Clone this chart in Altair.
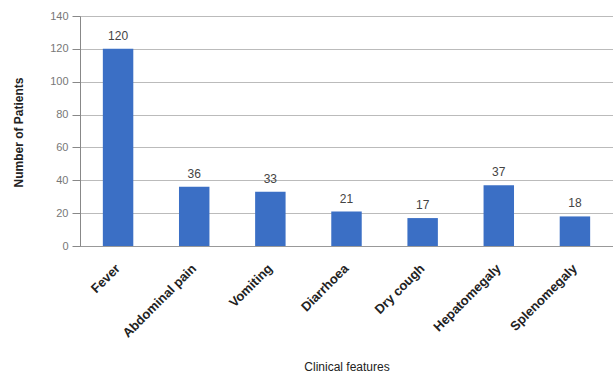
import altair as alt
import pandas as pd

features = ["Fever", "Abdominal pain", "Vomiting", "Diarrhoea", "Dry cough", "Hepatomegaly", "Splenomegaly"]
patients = [120, 36, 33, 21, 17, 37, 18]
y_ticks = [0, 20, 40, 60, 80, 100, 120, 140]

df = pd.DataFrame({"feature": features, "patients": patients})

base = alt.Chart(df).encode(
    x=alt.X("feature:N", sort=features, title="Clinical features",
            scale=alt.Scale(paddingInner=0.6, paddingOuter=0.3),
            axis=alt.Axis(labelAngle=-45, labelAlign="right", labelBaseline="middle",
                          labelFontSize=13, labelFontWeight="bold", labelColor="#222",
                          ticks=False, domain=True, domainColor="#999", labelPadding=20,
                          labelOverlap=False,
                          titleFontSize=12, titleFontWeight="normal", titleColor="#222",
                          titlePadding=22, labelFont="Liberation Sans", titleFont="Liberation Sans")),
    y=alt.Y("patients:Q", title="Number of Patients",
            scale=alt.Scale(domain=[0, 140], nice=False),
            axis=alt.Axis(values=y_ticks, tickSize=8, tickColor="#888",
                          domainColor="#888", gridColor="#bbb", labelColor="#777",
                          labelFontSize=11, labelPadding=4, titleFontSize=12,
                          labelOverlap=False,
                          titleFontWeight="bold", titleColor="#222", titlePadding=24,
                          titleY=116,
                          labelFont="Liberation Sans", titleFont="Liberation Sans")),
)

bars = base.mark_bar(color="#3b6fc5")

text = base.mark_text(dy=-13, fontSize=12, color="#444", font="Liberation Sans").encode(
    text="patients:Q"
)

chart = (bars + text).properties(
    width=533, height=230,
    autosize=alt.AutoSizeParams(type="none"),
    padding={"left": 80, "top": 16, "right": 0, "bottom": 131},
).configure_view(stroke=None).configure(background="white")

chart.save("out.html", embed_options={"renderer": "svg", "actions": False})
